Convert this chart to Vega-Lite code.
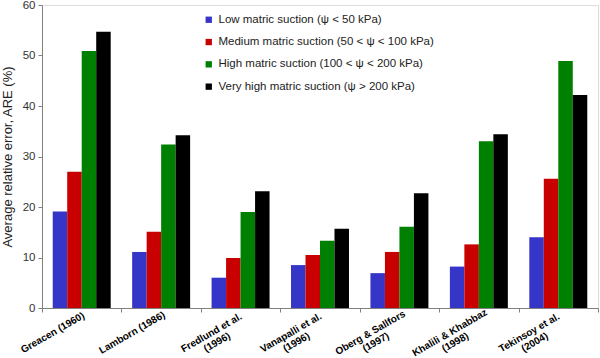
{
  "$schema": "https://vega.github.io/schema/vega-lite/v6.json",
  "autosize": "none",
  "width": 556,
  "height": 303,
  "padding": {"left": 42, "top": 5, "right": 2, "bottom": 50},
  "background": "white",
  "config": {
    "view": {"stroke": "#dddddd", "strokeWidth": 1},
    "font": "Liberation Sans"
  },
  "data": {
    "values": [
      {"study": "Greacen (1960)", "series": "Low matric suction (ψ < 50 kPa)", "order": 1, "are": 19.1},
      {"study": "Greacen (1960)", "series": "Medium matric suction (50 < ψ < 100 kPa)", "order": 2, "are": 27.0},
      {"study": "Greacen (1960)", "series": "High matric suction (100 < ψ < 200 kPa)", "order": 3, "are": 50.9},
      {"study": "Greacen (1960)", "series": "Very high matric suction (ψ > 200 kPa)", "order": 4, "are": 54.7},
      {"study": "Lamborn (1986)", "series": "Low matric suction (ψ < 50 kPa)", "order": 1, "are": 11.1},
      {"study": "Lamborn (1986)", "series": "Medium matric suction (50 < ψ < 100 kPa)", "order": 2, "are": 15.1},
      {"study": "Lamborn (1986)", "series": "High matric suction (100 < ψ < 200 kPa)", "order": 3, "are": 32.4},
      {"study": "Lamborn (1986)", "series": "Very high matric suction (ψ > 200 kPa)", "order": 4, "are": 34.2},
      {"study": "Fredlund et al.|(1996)", "series": "Low matric suction (ψ < 50 kPa)", "order": 1, "are": 6.0},
      {"study": "Fredlund et al.|(1996)", "series": "Medium matric suction (50 < ψ < 100 kPa)", "order": 2, "are": 9.9},
      {"study": "Fredlund et al.|(1996)", "series": "High matric suction (100 < ψ < 200 kPa)", "order": 3, "are": 19.0},
      {"study": "Fredlund et al.|(1996)", "series": "Very high matric suction (ψ > 200 kPa)", "order": 4, "are": 23.1},
      {"study": "Vanapalli et al.|(1996)", "series": "Low matric suction (ψ < 50 kPa)", "order": 1, "are": 8.5},
      {"study": "Vanapalli et al.|(1996)", "series": "Medium matric suction (50 < ψ < 100 kPa)", "order": 2, "are": 10.5},
      {"study": "Vanapalli et al.|(1996)", "series": "High matric suction (100 < ψ < 200 kPa)", "order": 3, "are": 13.3},
      {"study": "Vanapalli et al.|(1996)", "series": "Very high matric suction (ψ > 200 kPa)", "order": 4, "are": 15.7},
      {"study": "Oberg & Sallfors|(1997)", "series": "Low matric suction (ψ < 50 kPa)", "order": 1, "are": 6.9},
      {"study": "Oberg & Sallfors|(1997)", "series": "Medium matric suction (50 < ψ < 100 kPa)", "order": 2, "are": 11.1},
      {"study": "Oberg & Sallfors|(1997)", "series": "High matric suction (100 < ψ < 200 kPa)", "order": 3, "are": 16.1},
      {"study": "Oberg & Sallfors|(1997)", "series": "Very high matric suction (ψ > 200 kPa)", "order": 4, "are": 22.7},
      {"study": "Khalili & Khabbaz|(1998)", "series": "Low matric suction (ψ < 50 kPa)", "order": 1, "are": 8.2},
      {"study": "Khalili & Khabbaz|(1998)", "series": "Medium matric suction (50 < ψ < 100 kPa)", "order": 2, "are": 12.6},
      {"study": "Khalili & Khabbaz|(1998)", "series": "High matric suction (100 < ψ < 200 kPa)", "order": 3, "are": 33.0},
      {"study": "Khalili & Khabbaz|(1998)", "series": "Very high matric suction (ψ > 200 kPa)", "order": 4, "are": 34.4},
      {"study": "Tekinsoy et al.|(2004)", "series": "Low matric suction (ψ < 50 kPa)", "order": 1, "are": 14.0},
      {"study": "Tekinsoy et al.|(2004)", "series": "Medium matric suction (50 < ψ < 100 kPa)", "order": 2, "are": 25.6},
      {"study": "Tekinsoy et al.|(2004)", "series": "High matric suction (100 < ψ < 200 kPa)", "order": 3, "are": 48.9},
      {"study": "Tekinsoy et al.|(2004)", "series": "Very high matric suction (ψ > 200 kPa)", "order": 4, "are": 42.2}
    ]
  },
  "mark": {"type": "bar"},
  "encoding": {
    "x": {
      "field": "study",
      "type": "nominal",
      "sort": null,
      "scale": {"paddingInner": 0, "paddingOuter": 0},
      "axis": {
        "title": null,
        "tickBand": "extent",
        "labelAngle": -30,
        "labelAlign": "center",
        "labelBaseline": "top",
        "labelOffset": -32,
        "labelFontWeight": "bold",
        "labelFontSize": 10,
        "labelColor": "#000000",
        "labelPadding": 16,
        "labelLimit": 0,
        "labelOverlap": false,
        "labelExpr": "split(datum.label, '|')",
        "labelLineHeight": 11,
        "domainColor": "#808080",
        "tickColor": "#808080",
        "tickSize": 4
      }
    },
    "xOffset": {
      "field": "series",
      "type": "nominal",
      "sort": {"field": "order"},
      "scale": {"paddingInner": 0, "paddingOuter": 0.74}
    },
    "y": {
      "field": "are",
      "type": "quantitative",
      "scale": {"domain": [0, 60], "nice": false},
      "axis": {
        "title": "Average relative error, ARE (%)",
        "titleFontSize": 13,
        "titleFontWeight": "normal",
        "titleColor": "#222222",
        "titlePadding": 8,
        "values": [0, 10, 20, 30, 40, 50, 60],
        "grid": false,
        "labelFontSize": 11.5,
        "labelColor": "#333333",
        "labelPadding": 3,
        "domainColor": "#808080",
        "tickColor": "#808080",
        "tickSize": 4
      }
    },
    "color": {
      "field": "series",
      "type": "nominal",
      "sort": {"field": "order"},
      "scale": {"range": ["#3535C8", "#C80000", "#008000", "#000000"]},
      "legend": {
        "title": null,
        "orient": "none",
        "legendX": 161,
        "legendY": 9,
        "symbolType": "square",
        "symbolSize": 40,
        "symbolStrokeWidth": 0,
        "labelFontSize": 11.5,
        "labelLimit": 0,
        "labelColor": "#222222",
        "labelOffset": 4,
        "rowPadding": 9.3
      }
    }
  }
}
